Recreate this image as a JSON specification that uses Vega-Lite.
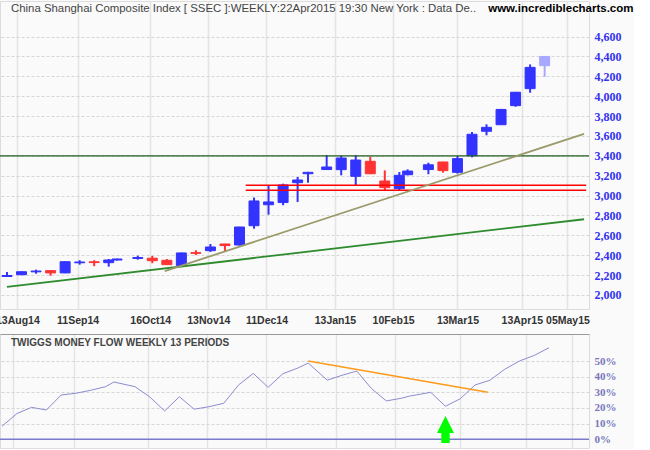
{
  "$schema": "https://vega.github.io/schema/vega-lite/v6.json",
  "background": "#fafafa",
  "padding": {"left": -6, "top": 0, "right": 0, "bottom": 0},
  "title": {"text": "www.incrediblecharts.com", "anchor": "end", "frame": "bounds", "offset": -13.5, "dx": 12, "font": "Liberation Sans", "fontSize": 11.5, "fontWeight": "bold", "color": "#000000"},
  "datasets": {
    "weekly": [
      {"date":"2014-08-08","open":2186,"high":2231,"low":2183,"close":2196,"tmf":8.3,"partial":false},
      {"date":"2014-08-15","open":2204,"high":2238,"low":2200,"close":2234,"tmf":16.4,"partial":false},
      {"date":"2014-08-22","open":2233,"high":2255,"low":2214,"close":2241,"tmf":20.4,"partial":false},
      {"date":"2014-08-29","open":2245,"high":2248,"low":2194,"close":2222,"tmf":18.7,"partial":false},
      {"date":"2014-09-05","open":2222,"high":2337,"low":2220,"close":2335,"tmf":28.3,"partial":false},
      {"date":"2014-09-12","open":2324,"high":2350,"low":2305,"close":2332,"tmf":29.4,"partial":false},
      {"date":"2014-09-19","open":2334,"high":2350,"low":2290,"close":2326,"tmf":31.3,"partial":false},
      {"date":"2014-09-26","open":2325,"high":2362,"low":2285,"close":2352,"tmf":33.6,"partial":false},
      {"date":"2014-09-30","open":2352,"high":2366,"low":2346,"close":2362,"tmf":36.6,"partial":false},
      {"date":"2014-10-10","open":2368,"high":2395,"low":2355,"close":2377,"tmf":33.6,"partial":false},
      {"date":"2014-10-17","open":2370,"high":2393,"low":2320,"close":2345,"tmf":27.0,"partial":false},
      {"date":"2014-10-24","open":2349,"high":2362,"low":2302,"close":2305,"tmf":18.1,"partial":false},
      {"date":"2014-10-31","open":2297,"high":2425,"low":2283,"close":2423,"tmf":27.2,"partial":false},
      {"date":"2014-11-07","open":2426,"high":2450,"low":2402,"close":2419,"tmf":19.2,"partial":false},
      {"date":"2014-11-14","open":2446,"high":2513,"low":2433,"close":2483,"tmf":20.8,"partial":false},
      {"date":"2014-11-21","open":2513,"high":2515,"low":2443,"close":2497,"tmf":23.0,"partial":false},
      {"date":"2014-11-28","open":2503,"high":2686,"low":2497,"close":2684,"tmf":34.7,"partial":false},
      {"date":"2014-12-05","open":2697,"high":2980,"low":2667,"close":2946,"tmf":42.1,"partial":false},
      {"date":"2014-12-12","open":2908,"high":3104,"low":2808,"close":2936,"tmf":33.2,"partial":false},
      {"date":"2014-12-19","open":2930,"high":3120,"low":2903,"close":3107,"tmf":41.9,"partial":false},
      {"date":"2014-12-26","open":3130,"high":3187,"low":2936,"close":3157,"tmf":45.5,"partial":false},
      {"date":"2014-12-31","open":3220,"high":3239,"low":3130,"close":3234,"tmf":48.7,"partial":false},
      {"date":"2015-01-09","open":3262,"high":3408,"low":3260,"close":3288,"tmf":37.8,"partial":false},
      {"date":"2015-01-16","open":3261,"high":3402,"low":3204,"close":3378,"tmf":40.9,"partial":false},
      {"date":"2015-01-23","open":3194,"high":3408,"low":3104,"close":3358,"tmf":43.6,"partial":false},
      {"date":"2015-01-30","open":3345,"high":3391,"low":3218,"close":3220,"tmf":32.3,"partial":false},
      {"date":"2015-02-06","open":3147,"high":3254,"low":3050,"close":3080,"tmf":24.5,"partial":false},
      {"date":"2015-02-13","open":3070,"high":3237,"low":3050,"close":3204,"tmf":26.2,"partial":false},
      {"date":"2015-02-17","open":3210,"high":3264,"low":3204,"close":3247,"tmf":27.6,"partial":false},
      {"date":"2015-02-27","open":3262,"high":3331,"low":3215,"close":3310,"tmf":30.0,"partial":false},
      {"date":"2015-03-06","open":3338,"high":3340,"low":3231,"close":3251,"tmf":21.1,"partial":false},
      {"date":"2015-03-13","open":3234,"high":3398,"low":3221,"close":3372,"tmf":25.9,"partial":false},
      {"date":"2015-03-20","open":3401,"high":3640,"low":3385,"close":3617,"tmf":34.7,"partial":false},
      {"date":"2015-03-27","open":3647,"high":3717,"low":3607,"close":3687,"tmf":37.7,"partial":false},
      {"date":"2015-04-03","open":3713,"high":3872,"low":3712,"close":3867,"tmf":44.7,"partial":false},
      {"date":"2015-04-10","open":3905,"high":4042,"low":3894,"close":4040,"tmf":50.0,"partial":false},
      {"date":"2015-04-17","open":4076,"high":4320,"low":4035,"close":4290,"tmf":53.6,"partial":false},
      {"date":"2015-04-24","open":4307,"high":4402,"low":4196,"close":4400,"tmf":58.5,"partial":true}
    ],
    "levels": [
      {"from":"2014-12-01","to":"2015-05-14","price":3105},
      {"from":"2014-12-01","to":"2015-05-14","price":3053}
    ],
    "resistance": [{"price": 3400}],
    "trends": [
      {"line":"long","date":"2014-08-08","price":2081},
      {"line":"long","date":"2015-05-13","price":2762},
      {"line":"short","date":"2014-10-23","price":2240},
      {"line":"short","date":"2015-05-13","price":3621}
    ],
    "tmfTrend": [
      {"date":"2014-12-31","tmf":50},
      {"date":"2015-03-26","tmf":30}
    ],
    "signal": [{"date":"2015-03-06","tmf":6.3}],
    "zero": [{"tmf": 0}]
  },
  "spacing": 25,
  "bounds": "flush",
  "vconcat": [
    {
      "width": 589,
      "height": 308,
      "title": {"text": "China Shanghai Composite Index [ SSEC ]:WEEKLY:22Apr2015 19:30 New York : Data De..", "anchor": "start", "frame": "group", "offset": -13.5, "dx": 11, "font": "Liberation Sans", "fontSize": 11.4, "fontWeight": "normal", "color": "#444444"},
      "layer": [
        {
          "data": {"name": "weekly"},
          "mark": {"type": "rule", "strokeWidth": 2},
          "encoding": {
            "x": {"field": "date", "type": "temporal",
                  "scale": {"type": "utc", "domain": [{"year":2014,"month":8,"date":7,"hours":1,"utc":true},{"year":2015,"month":5,"date":12,"hours":23,"utc":true}]},
                  "axis": {"title": null, "tickCount": 30, "values": [
                    {"year":2014,"month":8,"date":13,"utc":true},
                    {"year":2014,"month":9,"date":11,"utc":true},
                    {"year":2014,"month":10,"date":16,"utc":true},
                    {"year":2014,"month":11,"date":13,"utc":true},
                    {"year":2014,"month":12,"date":11,"utc":true},
                    {"year":2015,"month":1,"date":13,"utc":true},
                    {"year":2015,"month":2,"date":10,"utc":true},
                    {"year":2015,"month":3,"date":13,"utc":true},
                    {"year":2015,"month":4,"date":13,"utc":true},
                    {"year":2015,"month":5,"date":5,"utc":true}],
                    "format": "%d%b%y", "labelFlush": false, "labelOverlap": false,
                    "labelFont": "Liberation Sans", "labelFontSize": 10.5, "labelFontWeight": "bold", "labelColor": "#333333",
                    "labelPadding": 6, "ticks": false, "domain": false,
                    "grid": true, "gridColor": "#e4e4e4", "gridWidth": 1.5}},
            "y": {"field": "low", "type": "quantitative",
                  "scale": {"domain": [1859, 4958], "nice": false, "zero": false},
                  "axis": {"title": null, "orient": "right", "tickCount": 30, "values": [2000,2200,2400,2600,2800,3000,3200,3400,3600,3800,4000,4200,4400,4600],
                    "format": ",d", "labelOverlap": false, "labelFont": "Liberation Serif", "labelFontSize": 12, "labelFontWeight": "bold", "labelColor": "#3333ee",
                    "labelPadding": 5, "ticks": false, "domain": false,
                    "grid": true, "gridColor": "#d6d6d6", "gridDash": [3, 2], "gridWidth": 1}},
            "y2": {"field": "high"},
            "color": {"condition": [{"test": "datum.partial", "value": "#a8a8ff"}, {"test": "datum.close >= datum.open", "value": "#3333ff"}], "value": "#ff3333"}
          }
        },
        {
          "data": {"name": "weekly"},
          "mark": {"type": "bar", "width": 10, "strokeWidth": 1},
          "encoding": {
            "x": {"field": "date", "type": "temporal"},
            "y": {"field": "open", "type": "quantitative"},
            "y2": {"field": "close"},
            "fill": {"condition": [{"test": "datum.partial", "value": "#a8a8ff"}, {"test": "datum.close >= datum.open", "value": "#3333ff"}], "value": "#ff3333"},
            "stroke": {"condition": [{"test": "datum.partial", "value": "#a8a8ff"}, {"test": "datum.close >= datum.open", "value": "#3333ff"}], "value": "#ff3333"}
          }
        },
        {
          "data": {"name": "resistance"},
          "mark": {"type": "rule", "color": "#1f5f1f", "strokeWidth": 1.2},
          "encoding": {"y": {"field": "price", "type": "quantitative"}}
        },
        {
          "data": {"name": "levels"},
          "mark": {"type": "rule", "color": "#ff0000", "strokeWidth": 1.5, "clip": true},
          "encoding": {
            "x": {"field": "from", "type": "temporal"},
            "x2": {"field": "to"},
            "y": {"field": "price", "type": "quantitative"}
          }
        },
        {
          "data": {"name": "trends"},
          "mark": {"type": "line", "strokeWidth": 1.8, "clip": true},
          "encoding": {
            "x": {"field": "date", "type": "temporal"},
            "y": {"field": "price", "type": "quantitative"},
            "color": {"field": "line", "type": "nominal", "scale": {"domain": ["long", "short"], "range": ["#2e8b2e", "#9a9a6a"]}, "legend": null}
          }
        }
      ]
    },
    {
      "width": 589,
      "height": 114,
      "title": {"text": "TWIGGS MONEY FLOW WEEKLY 13 PERIODS", "anchor": "start", "frame": "group", "offset": -14, "dx": 11, "font": "Liberation Sans", "fontSize": 10, "fontWeight": "bold", "color": "#444444"},
      "layer": [
        {
          "data": {"name": "weekly"},
          "mark": {"type": "line", "color": "#8c8cd0", "strokeWidth": 1},
          "encoding": {
            "x": {"field": "date", "type": "temporal",
                  "scale": {"type": "utc", "domain": [{"year":2014,"month":8,"date":7,"hours":1,"utc":true},{"year":2015,"month":5,"date":12,"hours":23,"utc":true}]},
                  "axis": {"title": null, "orient": "top", "tickCount": 30, "values": [
                    {"year":2014,"month":8,"date":13,"utc":true},
                    {"year":2014,"month":9,"date":11,"utc":true},
                    {"year":2014,"month":10,"date":16,"utc":true},
                    {"year":2014,"month":11,"date":13,"utc":true},
                    {"year":2014,"month":12,"date":11,"utc":true},
                    {"year":2015,"month":1,"date":13,"utc":true},
                    {"year":2015,"month":2,"date":10,"utc":true},
                    {"year":2015,"month":3,"date":13,"utc":true},
                    {"year":2015,"month":4,"date":13,"utc":true},
                    {"year":2015,"month":5,"date":5,"utc":true}],
                    "labels": false, "ticks": false, "domain": true, "domainColor": "#9a9a9a", "domainWidth": 1,
                    "grid": true, "gridColor": "#e4e4e4", "gridWidth": 1.5}},
            "y": {"field": "tmf", "type": "quantitative",
                  "scale": {"domain": [-5.6, 67.3], "nice": false, "zero": false},
                  "axis": {"title": null, "orient": "right", "tickCount": 30, "values": [0, 10, 20, 30, 40, 50],
                    "labelExpr": "datum.value + '%'", "labelOverlap": false, "labelFont": "Liberation Serif", "labelFontSize": 11, "labelFontWeight": "bold", "labelColor": "#7777bb",
                    "labelPadding": 5, "ticks": false, "domain": false,
                    "grid": true, "gridColor": "#d6d6d6", "gridDash": [3, 2], "gridWidth": 1}}
          }
        },
        {
          "data": {"name": "zero"},
          "mark": {"type": "rule", "color": "#7b7bcc", "strokeWidth": 1.5},
          "encoding": {"y": {"field": "tmf", "type": "quantitative"}}
        },
        {
          "data": {"name": "tmfTrend"},
          "mark": {"type": "line", "color": "#ff9a1a", "strokeWidth": 1.5},
          "encoding": {
            "x": {"field": "date", "type": "temporal"},
            "y": {"field": "tmf", "type": "quantitative"}
          }
        },
        {
          "data": {"name": "signal"},
          "mark": {"type": "point", "shape": "M0,-1L0.63,0.26L0.31,0.26L0.31,1L-0.31,1L-0.31,0.26L-0.63,0.26Z", "size": 729, "filled": true, "color": "#00ff00", "opacity": 1, "strokeWidth": 0},
          "encoding": {
            "x": {"field": "date", "type": "temporal"},
            "y": {"field": "tmf", "type": "quantitative"}
          }
        }
      ]
    }
  ],
  "config": {
    "view": {"stroke": "#dddddd"},
    "font": "Liberation Sans"
  }
}
